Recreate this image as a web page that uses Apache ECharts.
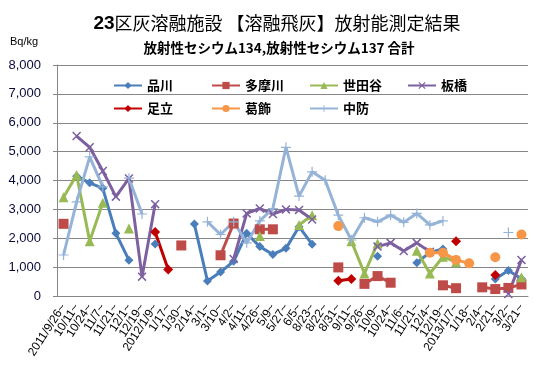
<!DOCTYPE html>
<html><head><meta charset="utf-8">
<script src="https://cdn.jsdelivr.net/npm/echarts@6/dist/echarts.min.js"></script>
<style>html,body{margin:0;padding:0;background:#fff}#c{width:534px;height:370px}</style>
</head><body><div id="c"></div>
<script>
var categories = ['2011/9/26~','10/11~','10/24~','11/7~','11/21~','12/1~','12/19~','2012/1/9~','1/17~','1/30~','2/14~','3/1~','3/10~','4/2~','4/11~','4/26~','5/9~','5/27~','6/5~','8/23~','8/22~','8/31~','9/11~','9/26~','10/9~','10/24~','11/6~','11/21~','12/4~','12/19~','2013/1/7~','1/18~','2/4~','2/21~','3/2~','3/21~'];
var yTicks = [0,1000,2000,3000,4000,5000,6000,7000,8000];
var N = null;
var shinagawa = [N,4150,3920,3730,2170,1240,N,1800,N,N,2490,520,830,1200,2170,1710,1440,1650,2400,1790,N,N,N,N,1380,N,N,1150,1510,1630,N,N,N,590,880,600];
var tamagawa  = [2500,N,N,N,N,N,N,N,N,1750,N,N,1410,2510,N,2310,2310,N,N,N,N,990,N,420,690,460,N,N,N,370,270,N,300,240,280,400];
var setagaya  = [3420,4190,1900,3230,N,2340,N,N,N,N,N,N,N,N,N,2080,N,N,2460,2800,N,N,1900,780,1820,N,N,1570,780,1360,1170,N,N,N,N,650];
var itabashi  = [N,5540,5150,4330,3440,4070,670,3180,N,N,N,N,N,1280,2860,3030,2840,3000,2980,2650,N,N,N,N,1710,1840,1560,1840,1530,N,N,N,N,N,70,1250];
var adachi    = [N,N,N,N,N,N,N,2220,920,N,N,N,N,N,N,N,N,N,N,N,N,530,590,N,N,N,N,N,N,N,1900,N,N,730,N,N];
var katsushika= [N,N,N,N,N,N,N,N,N,N,N,N,N,N,N,N,N,N,N,N,N,2420,N,N,N,N,N,N,1500,1500,1250,1130,N,1340,N,2130];
var chubo     = [1420,3260,4820,3780,N,4080,2840,N,N,N,N,2570,2130,2570,1840,2600,3030,5150,3460,4300,4010,2800,1940,2710,2570,2800,2550,2860,2460,2600,N,N,N,N,2200,N];

var X = 'path://M0,1.2L1.2,0L10,8.8L8.8,10Z M8.8,0L10,1.2L1.2,10L0,8.8Z';
var P = 'path://M4.4,0H5.6V10H4.4Z M0,4.4H10V5.6H0Z';
function s(name, data, color, symbol, size) {
  return {
    name: name, type: 'line', data: data, connectNulls: false,
    showAllSymbol: true, symbol: symbol, symbolSize: size,
    lineStyle: {color: color, width: 3},
    itemStyle: {color: color, borderWidth: 0},
    emphasis: {disabled: true}
  };
}
var chart = echarts.init(document.getElementById('c'), null, {renderer: 'canvas'});
chart.setOption({
  animation: false,
  title: [{
    text: '{b|23}区灰溶融施設 【溶融飛灰】放射能測定結果',
    left: 272, top: 9, textAlign: 'center',
    textStyle: {fontFamily: 'Noto Sans CJK JP', fontSize: 18, fontWeight: 'normal', color: '#000',
      rich: {b: {fontFamily: 'Liberation Sans', fontSize: 19, fontWeight: 'bold', color: '#000'}}}
  }, {
    text: '放射性セシウム134,放射性セシウム137 合計',
    left: 274, top: 36, textAlign: 'center',
    textStyle: {fontFamily: 'Noto Sans CJK JP', fontSize: 13.5, fontWeight: 'bold', color: '#000'}
  }],
  graphic: [{type: 'text', left: 10, top: 36, style: {text: 'Bq/kg', font: '11px Liberation Sans', fill: '#000'}}],
  legend: {
    left: 108, top: 72, width: 400, itemGap: 6, itemWidth: 28, itemHeight: 9,
    textStyle: {fontFamily: 'Noto Sans CJK JP', fontSize: 13, fontWeight: 'bold', color: '#000', width: 58, lineHeight: 17},
    data: ['品川','多摩川','世田谷','板橋','足立','葛飾','中防']
  },
  grid: {left: 57, right: 6, top: 65, bottom: 74},
  xAxis: {
    type: 'category', data: categories, boundaryGap: true,
    axisLine: {lineStyle: {color: '#868686'}},
    axisTick: {interval: 0, length: 4, lineStyle: {color: '#868686'}},
    axisLabel: {interval: 0, rotate: 57, margin: 9, fontFamily: 'Liberation Sans', fontSize: 12, color: '#000'}
  },
  yAxis: {
    type: 'value', min: yTicks[0], max: yTicks[yTicks.length-1], interval: 1000,
    axisLine: {show: true, lineStyle: {color: '#868686'}},
    axisTick: {show: true, length: 4, lineStyle: {color: '#868686'}},
    splitLine: {lineStyle: {color: '#868686', width: 1}},
    axisLabel: {margin: 16, fontFamily: 'Liberation Sans', fontSize: 13, color: '#0a0a3a',
      formatter: function (v) { return v.toLocaleString('en-US'); }}
  },
  series: [
    s('品川', shinagawa, '#4A7EBB', 'diamond', 9),
    s('多摩川', tamagawa, '#BE4B48', 'rect', 10),
    s('世田谷', setagaya, '#98B954', 'triangle', 10),
    s('板橋', itabashi, '#7D60A0', X, 9),
    s('足立', adachi, '#C00000', 'diamond', 10),
    s('葛飾', katsushika, '#F79646', 'circle', 10),
    s('中防', chubo, '#95B3D7', P, 10)
  ]
});
</script></body></html>
